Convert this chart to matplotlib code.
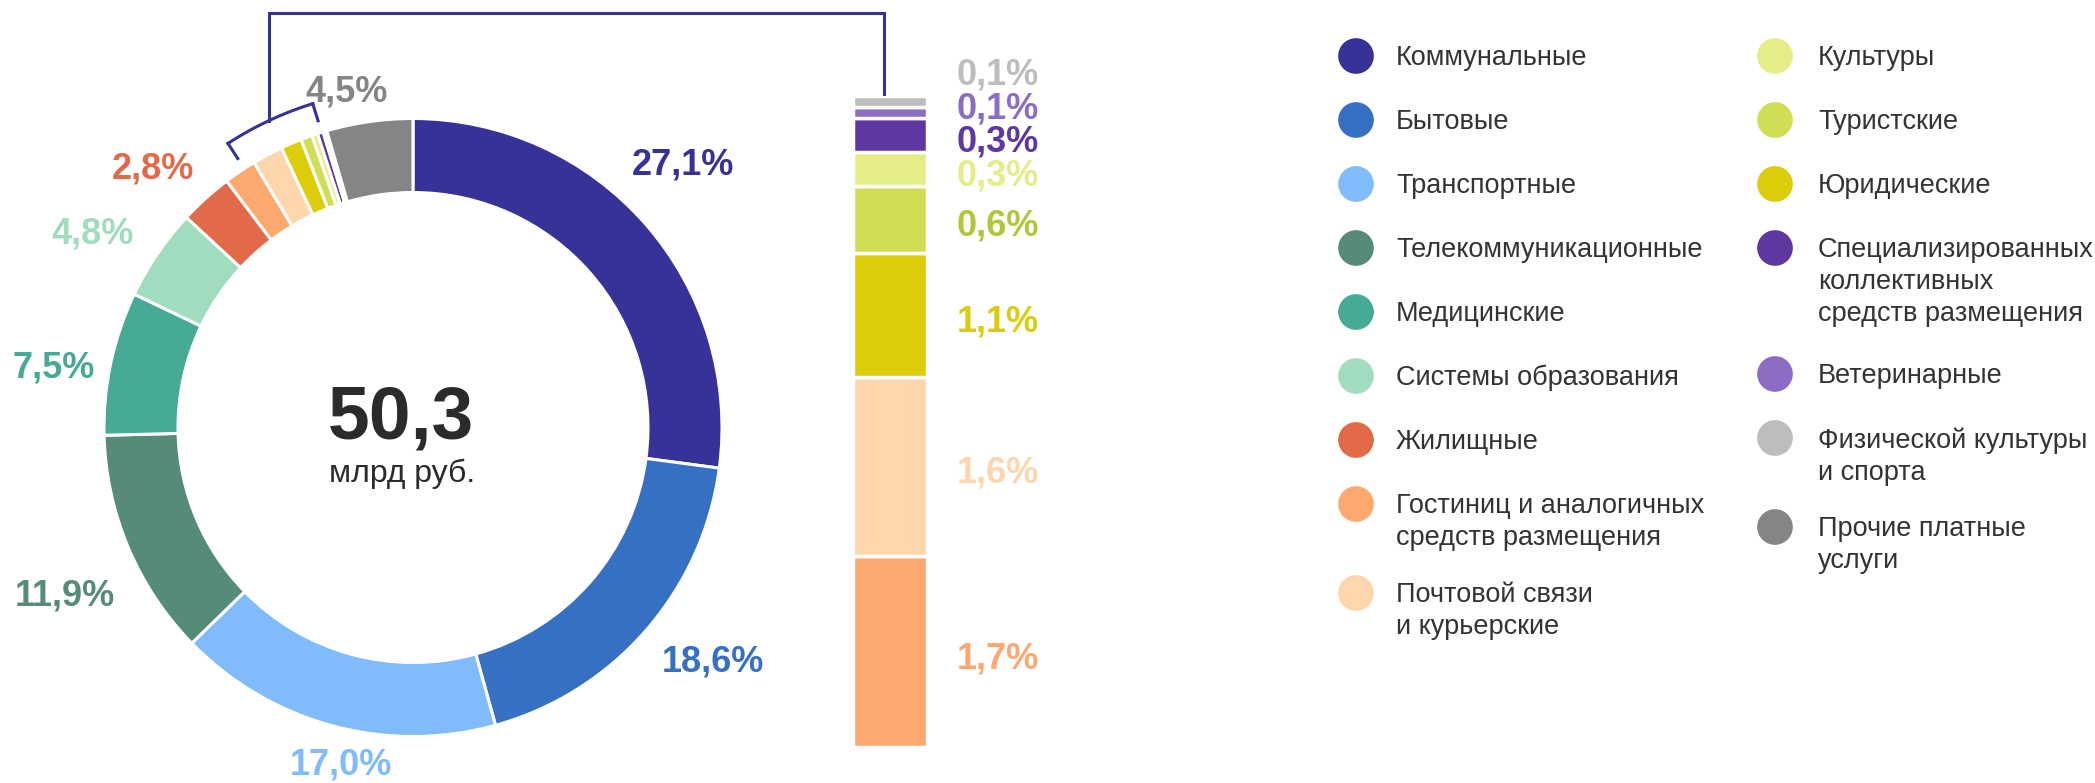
import matplotlib.pyplot as plt
import matplotlib.transforms as mtransforms
import numpy as np

plt.rcParams['font.family'] = ['Liberation Sans', 'DejaVu Sans']

# data (donut order, clockwise from the top)
categories = ['Коммунальные', 'Бытовые', 'Транспортные', 'Телекоммуникационные',
              'Медицинские', 'Системы образования', 'Жилищные',
              'Гостиниц и аналогичных\nсредств размещения', 'Почтовой связи\nи курьерские',
              'Юридические', 'Туристские', 'Культуры',
              'Специализированных\nколлективных\nсредств размещения',
              'Ветеринарные', 'Физической культуры\nи спорта', 'Прочие платные\nуслуги']
shares = [27.1, 18.6, 17.0, 11.9, 7.5, 4.8, 2.8, 1.7, 1.6, 1.1, 0.6, 0.3, 0.3, 0.1, 0.1, 4.5]
total_bn = 50.3
small_group = [7, 8, 9, 10, 11, 12, 13, 14]     # shown in the stacked bar
legend_col1 = [0, 1, 2, 3, 4, 5, 6, 7, 8]
legend_col2 = [11, 10, 9, 12, 13, 14, 15]

colors = ['#373297', '#3670c2', '#80bbfb', '#568b77', '#46aa97', '#a2dcbe', '#e36a49',
          '#fda86f', '#fdd6ad', '#dccc0a', '#d2dd56', '#e6ec88', '#5e38a0', '#8b6dc6',
          '#bdbdbd', '#858585']
label_colors = list(colors)
label_colors[10] = '#b3c63a'

def pct(v):
    return f'{v:.1f}'.replace('.', ',') + '%'

W, H = 2095, 783
CX, CY = 413, H - 427.5
R_OUT, RING = 309, 74
LINE = '#373297'

fig = plt.figure(figsize=(W / 100, H / 100), dpi=100)
ax = fig.add_axes([0, 0, 1, 1])
wedges, _ = ax.pie(shares, colors=colors, startangle=90, counterclock=False,
                   radius=R_OUT, center=(CX, CY),
                   wedgeprops=dict(width=RING, edgecolor='white', linewidth=2.2))
ax.set_xlim(0, W)
ax.set_ylim(0, H)
ax.set_aspect('equal')
ax.axis('off')

# donut labels
for i, w in enumerate(wedges):
    if i in small_group:
        continue
    txt = pct(shares[i])
    hw = 10.3 * len(txt)
    a = np.deg2rad((w.theta1 + w.theta2) / 2 + 3)
    r = R_OUT + 24 + 12 * len(txt) * abs(np.cos(a))
    x = max(CX + r * np.cos(a), hw + 12)
    ax.text(x, CY + r * np.sin(a), txt, color=colors[i],
            fontsize=26, fontweight='bold', ha='center', va='center')

# centre
ax.text(401, H - 438, f'{total_bn:.1f}'.replace('.', ','), fontsize=54, fontweight='bold',
        color='#2b2b2b', ha='center', va='baseline')
ax.text(402, H - 482, 'млрд руб.', fontsize=23, color='#2b2b2b', ha='center', va='baseline')

# stacked bar for the small categories
BX0, BX1, BY0, BY1 = 853, 927, H - 747, H - 96
bax = fig.add_axes([BX0 / W, BY0 / H, (BX1 - BX0) / W, (BY1 - BY0) / H])
bvals = [shares[i] for i in small_group]
bottoms = np.concatenate([[0], np.cumsum(bvals)[:-1]])
bax.bar(0, bvals, bottom=bottoms, width=1, color=[colors[i] for i in small_group],
        edgecolor='white', linewidth=2.5)
bax.set_xlim(-0.5, 0.5)
bax.set_ylim(0, sum(bvals))
bax.axis('off')

trans = mtransforms.blended_transform_factory(bax.transAxes, bax.transData)
trans = mtransforms.offset_copy(trans, fig=fig, y=-7, units='dots')
prev = -1
for k, i in enumerate(small_group):
    y = max(bottoms[k] + bvals[k] / 2, prev + 0.3)
    prev = y
    bax.text(1.405, y, pct(shares[i]), transform=trans, color=label_colors[i],
             fontsize=26, fontweight='bold', ha='left', va='center', clip_on=False)

# bracket around the small slices and connector to the bar
a_lo = min(wedges[i].theta1 for i in small_group) + 1
a_hi = max(wedges[i].theta2 for i in small_group) - 4
t = np.deg2rad(np.linspace(a_lo, a_hi, 60))
r_arc, r_tick = R_OUT + 30, R_OUT + 12
ax.plot(CX + r_arc * np.cos(t), CY + r_arc * np.sin(t), color=LINE, lw=2.2)
for ang in (t[0], t[-1]):
    ax.plot([CX + r_arc * np.cos(ang), CX + r_tick * np.cos(ang)],
            [CY + r_arc * np.sin(ang), CY + r_tick * np.sin(ang)], color=LINE, lw=2.2)
am = np.deg2rad((a_lo + a_hi) / 2)
xm, ym = CX + r_arc * np.cos(am), CY + r_arc * np.sin(am)
xb = BX0 + 31
ax.plot([xm, xm, xb, xb], [ym, H - 13, H - 13, BY1 - 6], color=LINE, lw=2.2,
        solid_joinstyle='miter')

# legend
for col_x, items in ((1356, legend_col1), (1775, legend_col2)):
    y = H - 56
    for i in items:
        n = categories[i].count('\n')
        ax.scatter(col_x, y, s=660, color=colors[i], edgecolors='none')
        ax.text(col_x + 40 if col_x < 1500 else col_x + 43, y + 11, categories[i],
                fontsize=19.5, color='#333333', ha='left', va='top', linespacing=1.3)
        y -= 64 + 25 * n + 6 * n * (n - 1)

fig.savefig('out.png', dpi=100)
